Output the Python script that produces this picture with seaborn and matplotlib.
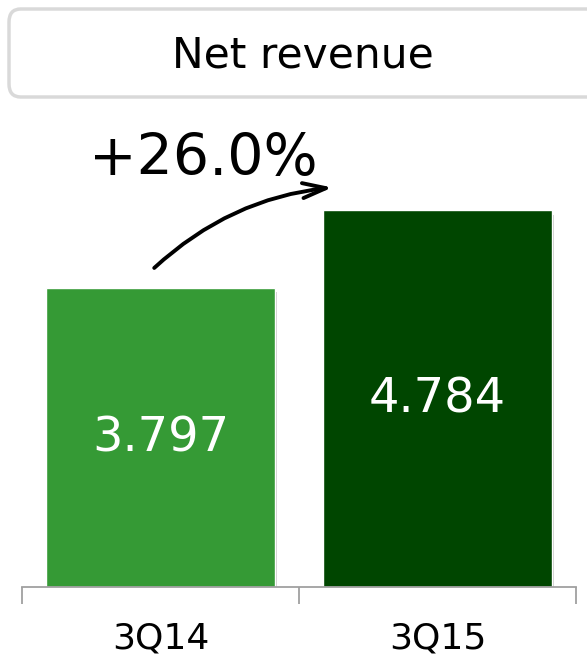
import matplotlib
matplotlib.use("Agg")
import matplotlib.pyplot as plt
import seaborn as sns
import pandas as pd
from matplotlib.patches import FancyBboxPatch
import matplotlib.patheffects as pe

categories = ["3Q14", "3Q15"]
values = [3.797, 4.784]
bar_colors = ["#359a35", "#004600"]
title = "Net revenue"
growth_label = "+26.0%"

sns.set_theme(style="white")
plt.rcParams['font.family'] = ['DejaVu Sans']

W, H = 587, 659
fig = plt.figure(figsize=(W / 100, H / 100), dpi=100)
ax_left, ax_right = 22 / W, 576 / W
ax_bottom, ax_top = (H - 587) / H, (H - 100) / H
ax = fig.add_axes([ax_left, ax_bottom, ax_right - ax_left, ax_top - ax_bottom])

df = pd.DataFrame({"cat": categories, "val": values})
sns.barplot(data=df, x="cat", y="val", hue="cat", palette=bar_colors,
            width=0.83, legend=False, ax=ax, saturation=1)
for p in ax.patches:
    p.set_path_effects([pe.SimplePatchShadow(offset=(1, -3), alpha=0.3, shadow_rgbFace="#555555"), pe.Normal()])

ax.set_xlim(-0.5, 1.5)
ax.set_ylim(0, (587 - 100) / 78.7)
ax.set_xlabel("")
ax.set_ylabel("")
ax.set_yticks([])
for s in ["left", "right", "top"]:
    ax.spines[s].set_visible(False)
ax.spines["bottom"].set_color("#a0a0a0")
ax.spines["bottom"].set_linewidth(1.3)
ax.set_xticks(range(len(categories)))
ax.set_xticklabels(categories, fontsize=26, color="black")
ax.tick_params(axis="x", which="major", length=0, pad=25, bottom=True)
ax.set_xticks([-0.5, 0.5, 1.5], minor=True)
ax.tick_params(axis="x", which="minor", length=12, width=1.3, color="#a0a0a0",
               direction="out", bottom=True)

for i, v in enumerate(values):
    ax.text(i, v / 2, f"{v:.3f}", ha="center", va="center", color="white", fontsize=34.5)

# growth annotation
ax.annotate("", xy=(0.63, 5.08), xytext=(-0.03, 4.03),
            arrowprops=dict(arrowstyle="->,head_length=1.4,head_width=0.45", color="black",
                            lw=2.8, connectionstyle="arc3,rad=-0.17"),
            annotation_clip=False)
ax.text(0.153, 5.43, growth_label, ha="center", va="center", fontsize=41, color="black", clip_on=False)

# title box
box = FancyBboxPatch((9 / W, (H - 97) / H), 600 / W, 88 / H,
                     boxstyle="round,pad=0,rounding_size=0.02",
                     transform=fig.transFigure, facecolor="white", edgecolor="#d9d9d9", lw=2.5)
fig.patches.append(box)
fig.text(303 / W, (H - 56) / H, title, ha="center", va="center", fontsize=30.5, color="black")

fig.savefig("out.png", dpi=100)
